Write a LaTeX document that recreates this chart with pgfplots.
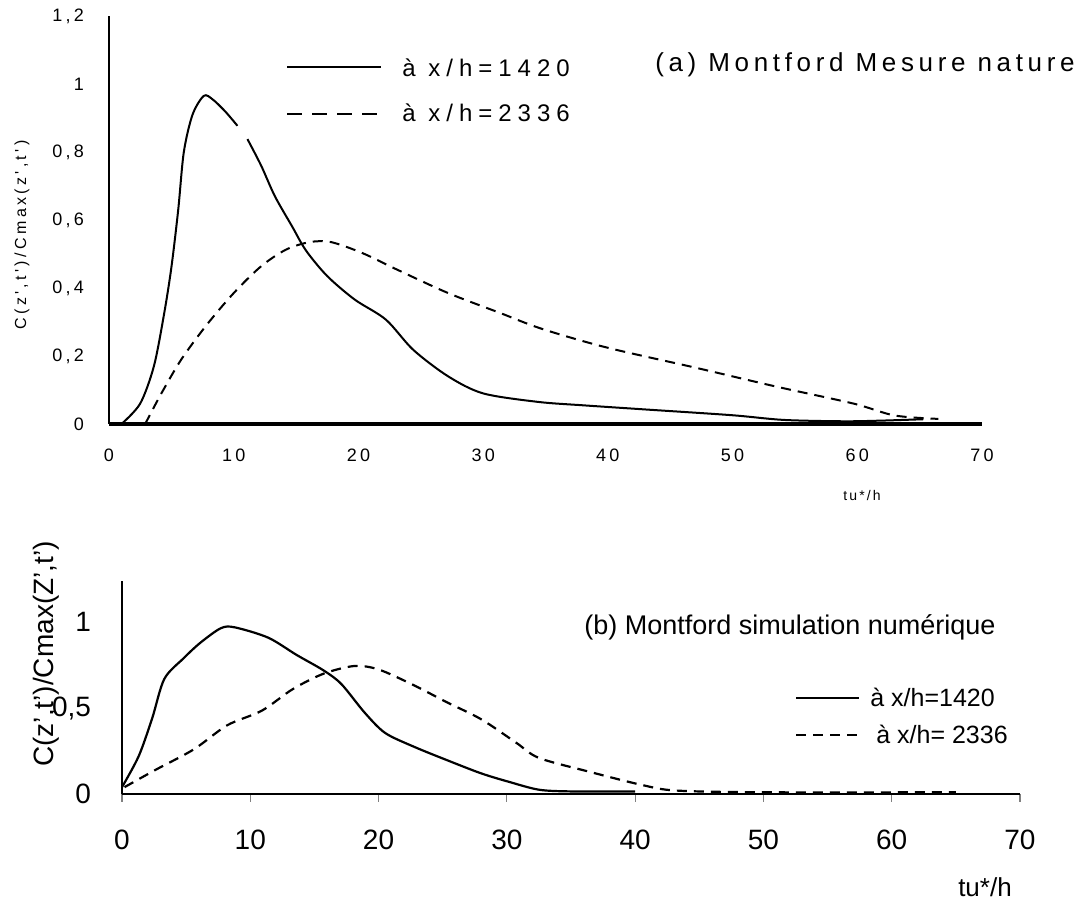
\documentclass[border=0pt]{standalone}
\usepackage{fontspec}
\setmainfont{Liberation Sans}
% letter-spaced faces for panel (a)
\newfontfamily\tickA[LetterSpace=18]{Liberation Sans}
\newfontfamily\legA[LetterSpace=25]{Liberation Sans}
\newfontfamily\titA[LetterSpace=18]{Liberation Sans}
\newfontfamily\labA[LetterSpace=21]{Liberation Sans}
\newfontfamily\unitA[LetterSpace=15]{Liberation Sans}
\usepackage{pgfplots}
\pgfplotsset{compat=1.18}

\begin{document}
\begin{tikzpicture}
\path[use as bounding box] (0,0) rectangle (542pt,453pt);

% ---------------- (a) field measurements ----------------
\begin{axis}[
  at={(54.5pt,241pt)}, anchor=south west, scale only axis,
  width=436.5pt, height=204pt,
  xmin=0, xmax=70, ymin=0, ymax=1.2,
  axis x line*=bottom, axis y line*=left,
  x axis line style={-, line width=2pt},
  y axis line style={-, line width=1.2pt},
  xtick={0,10,20,30,40,50,60,70},
  xticklabels={0,10,20,30,40,50,60,70},
  ytick={0,0.2,0.4,0.6,0.8,1,1.2},
  yticklabels={0,{0,2},{0,4},{0,6},{0,8},1,{1,2}},
  major tick length=0pt,
  tick label style={font=\tickA\fontsize{9}{10}\selectfont},
  xticklabel style={yshift=-9pt},
  yticklabel style={xshift=-9pt},
  clip=false,
  legend style={draw=none, fill=none, at={(0.2027,0.897)}, anchor=north west,
    font=\legA\fontsize{12}{14}\selectfont, inner sep=0pt,
    nodes={inner sep=0pt}, column sep=10pt, row sep=12.5pt},
  legend cell align=left,
]
\addplot[black, line width=1pt, smooth,
  legend image code/.code={\draw[black, line width=1pt] (0pt,1pt) -- (47pt,1pt);}]
  coordinates {(1.0,0) (2.5,0.06) (3.6,0.17) (4.4,0.32) (5.0,0.46) (5.55,0.63)
    (6.0,0.80) (6.7,0.91) (7.6,0.965) (8.3,0.955) (9.3,0.92) (10.3,0.877)};
\addlegendentry{à x/h=1420}
\addplot[black, line width=1pt, dash pattern=on 5pt off 3.5pt, smooth,
  legend image code/.code={\draw[black, line width=1pt, dash pattern=on 7.5pt off 5pt] (0pt,0pt) -- (47pt,0pt);}]
  coordinates {(2.9,0) (4.2,0.09) (5.8,0.19) (7.8,0.29) (10.0,0.385) (12.2,0.464)
    (14.2,0.513) (16.1,0.535) (17.8,0.535) (20.3,0.503) (23.1,0.454) (27.2,0.385)
    (31.4,0.326) (34.7,0.28) (39.9,0.225) (47.1,0.165) (53.5,0.11) (59.7,0.06)
    (63.0,0.025) (66.5,0.015)};
\addlegendentry{à x/h=2336}
\addplot[black, line width=1pt, smooth, forget plot]
  coordinates {(11.1,0.838) (12.2,0.76) (13.3,0.67) (14.7,0.58) (15.8,0.51)
    (17.5,0.435) (19.7,0.366) (22.2,0.307) (24.4,0.218) (27.2,0.14) (30.0,0.09)
    (34.4,0.065) (38,0.055) (42.9,0.043) (49.9,0.026) (54.1,0.012) (58.9,0.008)
    (62,0.01) (65.3,0.014)};
\end{axis}

\node[rotate=90, font=\labA\fontsize{8}{9}\selectfont] at (11pt,335.5pt) {C(z',t')/Cmax(z',t')};
\node[font=\unitA\fontsize{7}{8}\selectfont] at (431pt,205pt) {tu*/h};
\node[font=\titA\fontsize{13}{15}\selectfont] at (432.5pt,420.5pt) {(a) Montford Mesure nature};

% ---------------- (b) numerical simulation ----------------
\begin{axis}[
  at={(61pt,56pt)}, anchor=south west, scale only axis,
  width=449pt, height=106.5pt,
  xmin=0, xmax=70, ymin=0, ymax=1.24,
  axis x line*=bottom, axis y line*=left,
  axis line style={-, line width=0.8pt},
  xtick={0,10,20,30,40,50,60,70},
  xticklabels={0,10,20,30,40,50,60,70},
  ytick={0,0.5,1},
  yticklabels={0,{0,5},1},
  tick align=outside, major tick length=4pt,
  xtick style={line width=0.6pt},
  ytick style={draw=none},
  tick label style={font=\fontsize{14}{16}\selectfont},
  xticklabel style={yshift=-10.5pt},
  yticklabel style={xshift=-8pt},
  clip=false,
  legend style={draw=none, fill=none, at={(0.7494,0.5)}, anchor=north west,
    font=\fontsize{12.5}{14}\selectfont, inner sep=0pt,
    nodes={inner sep=0pt}, column sep=5pt, row sep=8pt},
  legend cell align=left,
]
\addplot[black, line width=1.1pt, smooth,
  legend image code/.code={\draw[black, line width=1pt] (0pt,0.5pt) -- (31.5pt,0.5pt);}]
  coordinates {(0,0.04) (1.3,0.22) (2.35,0.44) (3.3,0.67) (4.8,0.79) (6.1,0.88)
    (7.7,0.965) (8.8,0.97) (11.4,0.91) (13.6,0.81) (15.7,0.72) (17.1,0.64)
    (18.9,0.475) (20.5,0.356) (22.7,0.277) (25.3,0.198) (28.0,0.12) (30.2,0.07)
    (32.5,0.025) (35,0.015) (40,0.015)};
\addlegendentry{à x/h=1420}
\addplot[black, line width=1.1pt, dash pattern=on 5pt off 3.5pt, smooth,
  legend image code/.code={\draw[black, line width=1pt, dash pattern=on 5pt off 3.5pt] (0pt,0.5pt) -- (31.5pt,0.5pt);}]
  coordinates {(0.2,0.04) (2.6,0.14) (5.6,0.26) (8.2,0.40) (10.9,0.485) (13.3,0.61)
    (15.7,0.70) (18.1,0.745) (20.0,0.725) (22.7,0.635) (25.3,0.535) (28.0,0.435)
    (30.7,0.30) (32.5,0.21) (36.4,0.13) (40.5,0.053) (43.2,0.02) (50,0.01) (65,0.01)};
\addlegendentry{\hspace{3pt}à x/h= 2336}
\end{axis}

\node[rotate=90, font=\fontsize{14}{16}\selectfont] at (23pt,126pt) {C(z',t')/Cmax(Z',t')};
\node[font=\fontsize{13}{15}\selectfont] at (492.5pt,9.5pt) {tu*/h};
\node[font=\fontsize{13.5}{15}\selectfont] at (395pt,139.5pt) {(b) Montford simulation numérique};
\end{tikzpicture}
\end{document}
